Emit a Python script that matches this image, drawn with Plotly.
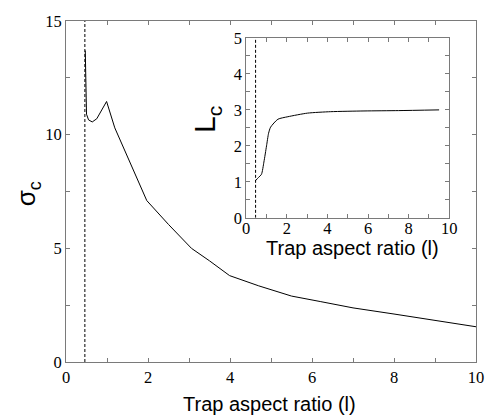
import plotly.graph_objects as go

# Main panel data
main_x = [0.47, 0.48, 0.5, 0.55, 0.64, 0.75, 0.85, 0.99, 1.19, 1.5, 1.97, 2.5, 3.06, 3.5, 3.99, 4.7, 5.5, 6.2, 7.0, 8.0, 9.0, 10.0]
main_y = [13.7, 12.0, 10.9, 10.65, 10.56, 10.7, 11.0, 11.46, 10.3, 9.0, 7.1, 6.05, 5.0, 4.45, 3.8, 3.35, 2.9, 2.66, 2.38, 2.11, 1.83, 1.55]

# Inset data
inset_x = [0.45, 0.6, 0.75, 0.87, 1.0, 1.1, 1.2, 1.56, 2.05, 3.02, 4.16, 5.8, 7.5, 9.5]
inset_y = [1.03, 1.12, 1.21, 1.55, 2.0, 2.35, 2.52, 2.74, 2.81, 2.91, 2.95, 2.97, 2.98, 3.0]

# Critical aspect ratio (dashed line)
crit_x = [0.46, 0.46]
main_crit_y = [0, 15]
inset_crit_y = [0, 5]

# Ticks
main_xticks = [0, 2, 4, 6, 8, 10]
main_xticklabels = ["0", "2", "4", "6", "8", "10"]
main_yticks = [0, 5, 10, 15]
main_yticklabels = ["0", "5", "10", "15"]
inset_xticks = [0, 2, 4, 6, 8, 10]
inset_xticklabels = ["0", "2", "4", "6", "8", "10"]
inset_yticks = [0, 1, 2, 3, 4, 5]
inset_yticklabels = ["0", "1", "2", "3", "4", "5"]
main_xminor = [1, 3, 5, 7, 9]
main_yminor = [2.5, 7.5, 12.5]
inset_xminor = [1, 3, 5, 7, 9]
inset_yminor = [0.5, 1.5, 2.5, 3.5, 4.5]

AX = "#7a7a7a"
TICKFONT = dict(family="Liberation Serif, Times New Roman, serif", size=16.5, color="black")
TITLEFONT = "Liberation Sans, Arial, sans-serif"

fig = go.Figure()
fig.add_trace(go.Scatter(x=crit_x, y=main_crit_y, mode="lines",
                         line=dict(color="black", width=1, dash="3px,2px"),
                         xaxis="x", yaxis="y", showlegend=False))
fig.add_trace(go.Scatter(x=main_x, y=main_y, mode="lines",
                         line=dict(color="black", width=1),
                         xaxis="x", yaxis="y", showlegend=False))
fig.add_trace(go.Scatter(x=crit_x, y=inset_crit_y, mode="lines",
                         line=dict(color="black", width=1, dash="3px,2px"),
                         xaxis="x2", yaxis="y2", showlegend=False))
fig.add_trace(go.Scatter(x=inset_x, y=inset_y, mode="lines",
                         line=dict(color="black", width=1, shape="spline", smoothing=0.6),
                         xaxis="x2", yaxis="y2", showlegend=False))

def axcommon(minor_vals):
    return dict(showline=True, linecolor=AX, linewidth=1, mirror="ticks",
                ticks="inside", ticklen=4, tickcolor=AX, tickwidth=1,
                showgrid=False, zeroline=False, tickfont=TICKFONT, tickmode="array",
                minor=dict(tickmode="array", tickvals=minor_vals, ticks="inside",
                           ticklen=4, tickcolor=AX, tickwidth=1, showgrid=False))

# desired plot-area edges in window pixels
PL, PR, PT, PB = 66, 480, 19, 362
W, H = 496, 419
L, T = PL, PT
R = W - PR
B = H - PB
pw, ph = PR - PL, PB - PT

def px2paper_x(p):
    return (p - PL) / pw

def px2paper_y(p):
    return (PB - p) / ph

fig.update_layout(
    width=W, height=H,
    margin=dict(l=L, r=R, t=T, b=B),
    paper_bgcolor="white", plot_bgcolor="white",
    xaxis=dict(domain=[0, 1], range=[0, 10], tickvals=main_xticks, ticktext=main_xticklabels,
               anchor="y", **axcommon(main_xminor)),
    yaxis=dict(domain=[0, 1], range=[0, 15], tickvals=main_yticks, ticktext=main_yticklabels,
               anchor="x", **axcommon(main_yminor)),
    xaxis2=dict(domain=[px2paper_x(248), px2paper_x(453)], range=[0, 10],
                tickvals=inset_xticks, ticktext=inset_xticklabels, anchor="y2",
                ticklabelstandoff=-5, **axcommon(inset_xminor)),
    yaxis2=dict(domain=[px2paper_y(217), px2paper_y(36)], range=[0, 5],
                tickvals=inset_yticks, ticktext=inset_yticklabels, anchor="x2",
                **axcommon(inset_yminor)),
    annotations=[
        dict(text="Trap aspect ratio (l)", xref="paper", yref="paper",
             x=px2paper_x(271), y=px2paper_y(404), showarrow=False,
             font=dict(family=TITLEFONT, size=20, color="black"), xanchor="center", yanchor="middle"),
        dict(text="Trap aspect ratio (l)", xref="paper", yref="paper",
             x=px2paper_x(355), y=px2paper_y(247), showarrow=False,
             font=dict(family=TITLEFONT, size=20, color="black"), xanchor="center", yanchor="middle"),
        dict(text="σ<sub>c</sub>", xref="paper", yref="paper",
             x=px2paper_x(28), y=px2paper_y(193), showarrow=False, textangle=-90,
             font=dict(family=TITLEFONT, size=26, color="black"), xanchor="center", yanchor="middle"),
        dict(text="L<sub>c</sub>", xref="paper", yref="paper",
             x=px2paper_x(208), y=px2paper_y(118), showarrow=False, textangle=-90,
             font=dict(family=TITLEFONT, size=30, color="black"), xanchor="center", yanchor="middle"),
    ],
)

fig.write_html("out.html", config={"displayModeBar": False},
               post_script="document.body.style.margin='0';document.body.style.overflow='hidden';")
